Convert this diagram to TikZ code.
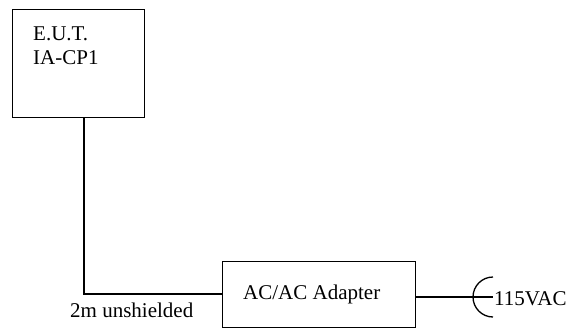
\documentclass[tikz,border=0pt]{standalone}
\usepackage{fontspec}
\setmainfont{Liberation Serif}
\begin{document}
\begin{tikzpicture}[x=1pt,y=-1pt,
  box/.style={draw=black,line width=1.3pt,fill=white,rectangle,inner sep=0pt},
  lbl/.style={inner sep=0pt,font=\fontsize{21}{24}\selectfont,align=left},
  wire/.style={line width=1.3pt}]
\useasboundingbox[fill=white] (0,0) rectangle (575,329);
\node[box,anchor=north west,minimum width=132pt,minimum height=108pt] (eut) at (12,9) {};
\node[lbl,anchor=base west] (eutlbl) at (33,64) {E.U.T.\\IA-CP1};
\node[box,anchor=north west,minimum width=193pt,minimum height=66pt] (adapter) at (222,261) {};
\node[lbl,anchor=base west] (adlbl) at (243,299) {AC/AC Adapter};
\node[lbl,anchor=base west] (cable) at (70,317) {2m unshielded};
\node[lbl,anchor=base west] (ac) at (494,305) {115VAC};
\coordinate (bend) at (84,294);
\coordinate (plug) at (493,297);
\draw[wire] (eut.south -| bend) -- (bend) -- (adapter.west |- bend);
\draw[wire] (adapter.east |- plug) -- (plug);
\draw[wire] ([yshift=20pt]plug) arc[start angle=90,end angle=270,radius=20pt];
\end{tikzpicture}
\end{document}
